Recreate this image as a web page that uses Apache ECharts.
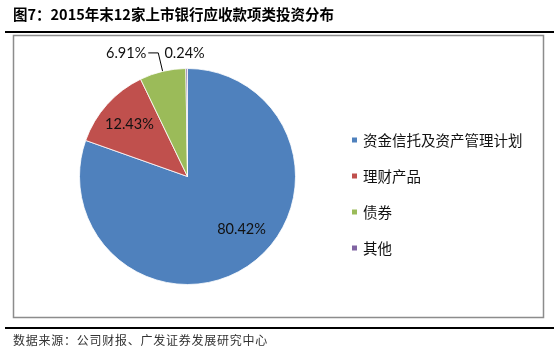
<!DOCTYPE html>
<html>
<head>
<meta charset="utf-8">
<script src="https://cdn.jsdelivr.net/npm/echarts@6/dist/echarts.min.js"></script>
<style>
html,body{margin:0;padding:0;background:#fff;}
#chart{width:554px;height:361px;}
</style>
</head>
<body>
<div id="chart"></div>
<script>
const titleText = '图7：2015年末12家上市银行应收款项类投资分布';
const sourceText = '数据来源：公司财报、广发证券发展研究中心';
const categories = ['资金信托及资产管理计划', '理财产品', '债券', '其他'];
const values = [80.42, 12.43, 6.91, 0.24];
const colors = ['#4F81BD', '#C0504D', '#9BBB59', '#8064A2'];
const insideLabelIdx = [0, 1];
const outsideLabelIdx = [2, 3];

const chart = echarts.init(document.getElementById('chart'), null, {renderer: 'canvas'});
const fmt = p => Number(p.value).toFixed(2) + '%';
const labelFont = {fontFamily: 'Lato, "Open Sans", sans-serif', fontSize: 14.5, color: '#111'};

const mainData = categories.map((c, i) => {
  const d = {name: c, value: values[i], itemStyle: {color: colors[i]}};
  if (outsideLabelIdx.includes(i)) {
    d.label = {show: true, position: 'outside'};
    if (i === 3) d.labelLine = {show: false, length: 15, length2: 0};
    else d.labelLine = {show: true, length: 19, length2: 10};
  } else {
    d.label = {show: false};
    d.labelLine = {show: false};
  }
  return d;
});
const overlayData = categories.map((c, i) => ({
  name: c, value: values[i],
  label: {show: insideLabelIdx.includes(i)}
}));

chart.setOption({
  backgroundColor: '#fff',
  animation: false,
  graphic: [
    {type: 'text', left: 13, top: 7, style: {text: titleText, font: 'bold 14.5px "Noto Sans CJK SC", sans-serif', fill: '#000'}},
    {type: 'line', shape: {x1: 5, y1: 32, x2: 554, y2: 32}, style: {stroke: '#000', lineWidth: 2}},
    {type: 'rect', shape: {x: 13.5, y: 35.5, width: 530, height: 282}, style: {fill: 'none', stroke: '#8c8c8c', lineWidth: 1.5}},
    {type: 'line', shape: {x1: 5, y1: 328, x2: 554, y2: 328}, style: {stroke: '#000', lineWidth: 2}},
    {type: 'text', left: 13, top: 334, style: {text: sourceText.split('').join('\u200A'), font: '12px "Noto Sans CJK SC", sans-serif', fill: '#333'}}
  ],
  legend: {
    orient: 'vertical',
    left: 345,
    top: 127,
    icon: 'rect',
    itemWidth: 7,
    itemHeight: 7,
    itemGap: 20,
    data: categories,
    textStyle: {fontFamily: '"Noto Sans CJK SC", sans-serif', fontSize: 14.5, color: '#111', lineHeight: 16}
  },
  series: [
    {
      type: 'pie',
      center: [187.5, 176.5],
      radius: [0, 108],
      startAngle: 90,
      clockwise: true,
      avoidLabelOverlap: false,
      itemStyle: {borderColor: '#fff', borderWidth: 0.8},
      label: Object.assign({formatter: fmt, distanceToLabelLine: 2}, labelFont),
      labelLine: {lineStyle: {color: '#000', width: 1}, smooth: false},
      labelLayout: function (p) {
        if (p.dataIndex === 3) return {align: 'center'};
        return {};
      },
      data: mainData
    },
    {
      type: 'pie',
      center: [187.5, 176.5],
      radius: [42, 108],
      startAngle: 90,
      clockwise: true,
      silent: true,
      itemStyle: {color: 'rgba(0,0,0,0)', borderWidth: 0},
      label: Object.assign({position: 'inside', formatter: fmt}, labelFont),
      labelLine: {show: false},
      labelLayout: function (p) {
        if (p.dataIndex === 0) return {dx: 9, dy: -11};
        return {};
      },
      data: overlayData
    }
  ]
});
</script>
</body>
</html>
